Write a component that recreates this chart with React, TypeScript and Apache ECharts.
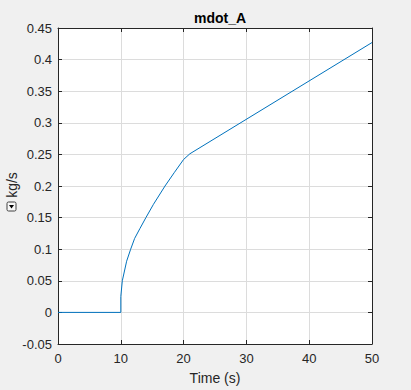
import React, { useEffect, useRef } from "react";
import * as echarts from "echarts";

const timeValues = [0, 10, 10, 10.24, 10.93, 11.57, 12.2, 13.06, 14, 15.2, 17.04, 18.5, 20, 21, 50];
const mdotValues = [0, 0, 0.025, 0.05, 0.081, 0.1, 0.117, 0.133, 0.15, 0.171, 0.2, 0.221, 0.242, 0.251, 0.427];
const titleText = "mdot_A";
const xName = "Time (s)";
const yName = "kg/s";

const FONT = "'Liberation Sans', Arial, Helvetica, sans-serif";
const AX = "#262626";

export default function App() {
  const ref = useRef<HTMLDivElement>(null);
  useEffect(() => {
    document.body.style.margin = "0";
    const chart = echarts.init(ref.current!, null, { renderer: "svg" });
    const data = timeValues.map((t, i) => [t, mdotValues[i]]);
    const common = {
      axisLine: { show: true, onZero: false, lineStyle: { color: AX, width: 1 } },
      axisTick: { show: true, inside: true, length: 4, lineStyle: { color: AX } },
    };
    chart.setOption({
      animation: false,
      backgroundColor: "#f0f0f0",
      textStyle: { fontFamily: FONT },
      title: {
        text: titleText,
        left: 215,
        top: 6,
        textAlign: "center",
        textStyle: { fontFamily: FONT, fontSize: 14, fontWeight: "bold", color: "#000" },
      },
      grid: {
        left: 58,
        right: 39,
        top: 28,
        bottom: 44,
        show: true,
        backgroundColor: "#ffffff",
        borderWidth: 0,
      },
      xAxis: [
        {
          type: "value",
          min: 0,
          max: 50,
          interval: 10,
          position: "bottom",
          name: xName,
          nameLocation: "middle",
          nameGap: 27,
          nameTextStyle: { fontFamily: FONT, fontSize: 14, color: AX },
          ...common,
          axisLabel: { fontFamily: FONT, fontSize: 13, color: AX, margin: 8 },
          splitLine: { show: true, lineStyle: { color: "#dcdcdc", width: 1 } },
        },
        {
          type: "value",
          min: 0,
          max: 50,
          interval: 10,
          position: "top",
          ...common,
          axisLabel: { show: false },
          splitLine: { show: false },
        },
      ],
      yAxis: [
        {
          type: "value",
          min: -0.05,
          max: 0.45,
          interval: 0.05,
          position: "left",
          ...common,
          axisLabel: {
            fontFamily: FONT,
            fontSize: 13,
            color: AX,
            margin: 6,
            formatter: (v: number) => String(+v.toFixed(2)),
          },
          splitLine: { show: true, lineStyle: { color: "#dcdcdc", width: 1 } },
        },
        {
          type: "value",
          min: -0.05,
          max: 0.45,
          interval: 0.05,
          position: "right",
          ...common,
          axisLabel: { show: false },
          splitLine: { show: false },
        },
      ],
      graphic: [
        {
          type: "text",
          x: 12,
          y: 185,
          rotation: Math.PI / 2,
          style: {
            text: yName,
            fontFamily: FONT,
            fontSize: 14,
            fill: AX,
            textAlign: "center",
            textVerticalAlign: "middle",
          },
        },
        {
          type: "rect",
          shape: { x: 7, y: 202, width: 9, height: 9, r: 1.5 },
          style: { fill: "#f7f7f7", stroke: "#404040", lineWidth: 1 },
        },
        {
          type: "polygon",
          shape: { points: [[9, 205], [14, 205], [11.5, 208.5]] },
          style: { fill: "#000" },
        },
      ],
      series: [
        {
          type: "line",
          xAxisIndex: 0,
          yAxisIndex: 0,
          data,
          showSymbol: false,
          symbol: "none",
          smooth: false,
          lineStyle: { color: "#0072bd", width: 1 },
        },
      ],
    });
    return () => chart.dispose();
  }, []);
  return <div ref={ref} style={{ width: 411, height: 390 }} />;
}
